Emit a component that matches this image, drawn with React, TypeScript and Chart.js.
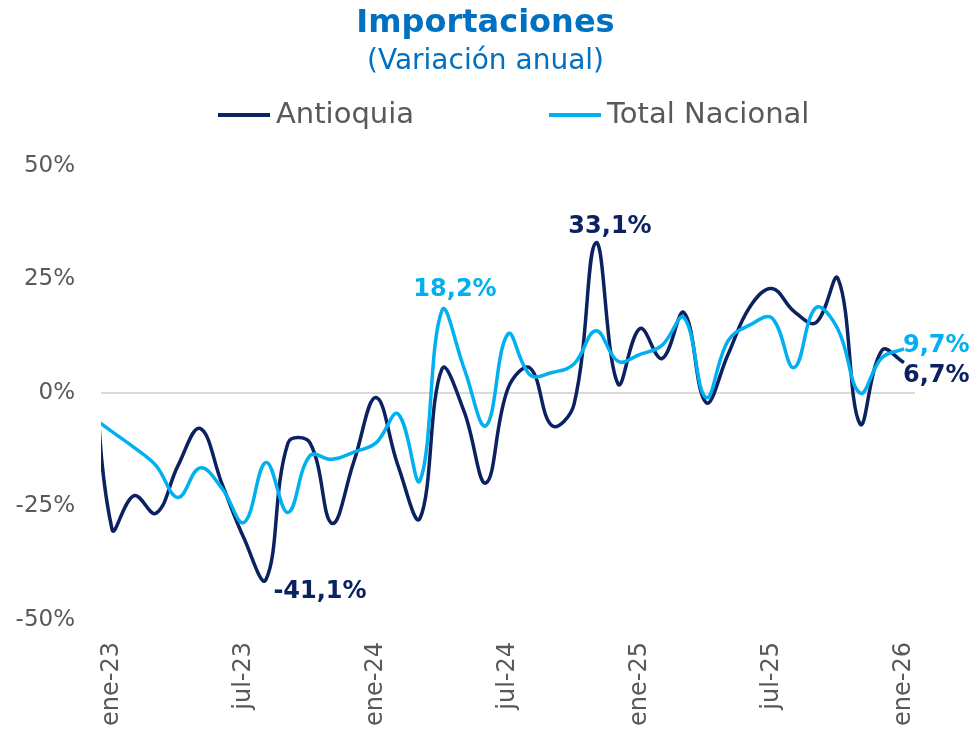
import React, { useEffect, useRef } from 'react';
import { Chart, registerables } from 'chart.js';

Chart.register(...registerables);

// first entry (dic-22) lies just outside the visible window and is clipped, as in the source
const monthLabels = [
  'dic-22',
  'ene-23', 'feb-23', 'mar-23', 'abr-23', 'may-23', 'jun-23', 'jul-23', 'ago-23', 'sep-23', 'oct-23', 'nov-23', 'dic-23',
  'ene-24', 'feb-24', 'mar-24', 'abr-24', 'may-24', 'jun-24', 'jul-24', 'ago-24', 'sep-24', 'oct-24', 'nov-24', 'dic-24',
  'ene-25', 'feb-25', 'mar-25', 'abr-25', 'may-25', 'jun-25', 'jul-25', 'ago-25', 'sep-25', 'oct-25', 'nov-25', 'dic-25',
  'ene-26',
];

const antioquia = [
  22,
  -30, -22.6, -26.5, -16, -7.8, -20, -32, -41.1, -11, -11, -28.7, -15,
  -1, -16, -27.6, 5.3, -4, -19.8, 1, 5.5, -7.2, -2.5, 33.1, 2,
  14.2, 7.6, 17.7, -2.1, 8.5, 19, 23, 18, 15.5, 25.2, -6.8, 9.4,
  6.7,
];

const totalNacional = [
  -5,
  -8.5, -12, -16, -23, -16.5, -21, -28.5, -15.3, -26.3, -13.8, -14.6, -13,
  -11, -4.6, -19.3, 18.2, 5.5, -7.2, 13, 4, 4.5, 6.4, 13.7, 7,
  8.5, 10.5, 16.6, -1, 11.5, 15, 16.5, 5.6, 18.8, 14, 0, 7.8,
  9.7,
];

const seriesNames = ['Antioquia', 'Total Nacional'];
const xTickLabels = ['ene-23', 'jul-23', 'ene-24', 'jul-24', 'ene-25', 'jul-25', 'ene-26'];
const yTickValues = [-50, -25, 0, 25, 50];

const titleText = 'Importaciones';
const subtitleText = '(Variación anual)';

const valueLabels = [
  { dataset: 0, month: 'ago-23', text: '-41,1%' },
  { dataset: 1, month: 'abr-24', text: '18,2%' },
  { dataset: 0, month: 'nov-24', text: '33,1%' },
  { dataset: 1, month: 'ene-26', text: '9,7%' },
  { dataset: 0, month: 'ene-26', text: '6,7%' },
];

const DARK = '#0B2160';
const LIGHT = '#00B0F0';
const GRAY = '#595959';
const BLUE = '#0070C0';
const FONT = '"DejaVu Sans", sans-serif';

// placement of the value labels relative to their point (style, not data)
const labelPlacement: Record<string, { dx: number; dy: number; align: CanvasTextAlign }> = {
  '-41,1%': { dx: 54, dy: 12, align: 'center' },
  '18,2%': { dx: 13, dy: -21, align: 'center' },
  '33,1%': { dx: 14, dy: -16, align: 'center' },
  '9,7%': { dx: -1, dy: -3, align: 'left' },
  '6,7%': { dx: -1, dy: 13, align: 'left' },
};

const legendPlugin = {
  id: 'customLegend',
  afterDraw(chart: any) {
    const ctx = chart.ctx;
    ctx.save();
    ctx.font = `29px ${FONT}`;
    ctx.textBaseline = 'middle';
    ctx.textAlign = 'left';
    let x = 218;
    const y = 115;
    chart.data.datasets.forEach((ds: any) => {
      ctx.strokeStyle = ds.borderColor;
      ctx.lineWidth = 4;
      ctx.beginPath();
      ctx.moveTo(x, y);
      ctx.lineTo(x + 52, y);
      ctx.stroke();
      ctx.fillStyle = GRAY;
      ctx.fillText(ds.label, x + 58, y);
      x += 58 + ctx.measureText(ds.label).width + 135;
    });
    ctx.restore();
  },
};

const valueLabelPlugin = {
  id: 'valueLabels',
  afterDatasetsDraw(chart: any) {
    const ctx = chart.ctx;
    ctx.save();
    ctx.font = `bold 24px ${FONT}`;
    ctx.textBaseline = 'middle';
    valueLabels.forEach((l) => {
      const idx = monthLabels.indexOf(l.month);
      const pt = chart.getDatasetMeta(l.dataset).data[idx];
      if (!pt) return;
      const p = labelPlacement[l.text];
      ctx.textAlign = p.align;
      ctx.fillStyle = l.dataset === 0 ? DARK : LIGHT;
      ctx.fillText(l.text, pt.x + p.dx, pt.y + p.dy);
    });
    ctx.restore();
  },
};

export default function App() {
  const canvasRef = useRef<HTMLCanvasElement | null>(null);

  useEffect(() => {
    document.body.style.margin = '0';
    const canvas = canvasRef.current;
    if (!canvas) return;
    const chart = new Chart(canvas, {
      type: 'line',
      data: {
        datasets: [
          {
            label: seriesNames[0],
            data: antioquia.map((v, i) => ({ x: i, y: v })),
            borderColor: DARK,
            backgroundColor: DARK,
            borderWidth: 3.5,
            pointRadius: 0,
            tension: 0.4,
            clip: 0,
            order: 1,
          },
          {
            label: seriesNames[1],
            data: totalNacional.map((v, i) => ({ x: i, y: v })),
            borderColor: LIGHT,
            backgroundColor: LIGHT,
            borderWidth: 3.5,
            pointRadius: 0,
            tension: 0.4,
            clip: 0,
            order: 0,
          },
        ],
      },
      options: {
        responsive: false,
        animation: false,
        devicePixelRatio: 1,
        layout: { padding: 0 },
        plugins: {
          legend: { display: false },
          tooltip: { enabled: false },
          title: {
            display: true,
            text: titleText,
            color: BLUE,
            font: { family: FONT, size: 32, weight: 'bold', lineHeight: 1.2 },
            padding: { top: 4, bottom: 0 },
          },
          subtitle: {
            display: true,
            text: subtitleText,
            color: BLUE,
            font: { family: FONT, size: 28, weight: 'normal', lineHeight: 1.2 },
            padding: { top: 2.8, bottom: 87.2 },
          },
        },
        scales: {
          x: {
            type: 'linear',
            min: 0.5,
            max: monthLabels.length - 0.5,
            grid: { display: false, drawTicks: false },
            border: { display: false },
            afterBuildTicks: (s: any) => {
              s.ticks = xTickLabels.map((m) => ({ value: monthLabels.indexOf(m) }));
            },
            afterFit: (s: any) => {
              s.height = 114;
            },
            ticks: {
              autoSkip: false,
              minRotation: 90,
              maxRotation: 90,
              padding: 22,
              color: GRAY,
              font: { family: FONT, size: 24 },
              callback: (v: any) => monthLabels[v] ?? '',
            },
          },
          y: {
            type: 'linear',
            min: -50,
            max: 50,
            afterBuildTicks: (s: any) => {
              s.ticks = yTickValues.map((v) => ({ value: v }));
            },
            afterFit: (s: any) => {
              s.width = 101;
            },
            border: { display: false },
            grid: {
              drawTicks: false,
              color: (c: any) => (c.tick && c.tick.value === 0 ? '#D9D9D9' : 'rgba(0,0,0,0)'),
              lineWidth: 2,
            },
            ticks: {
              padding: 26,
              color: GRAY,
              font: { family: FONT, size: 23 },
              callback: (v: any) => `${v}%`,
            },
          },
          yRightSpace: {
            type: 'linear',
            position: 'right',
            display: true,
            grid: { display: false, drawTicks: false },
            border: { display: false },
            ticks: { display: false },
            afterFit: (s: any) => {
              s.width = 56;
            },
          },
        },
      },
      plugins: [legendPlugin, valueLabelPlugin],
    } as any);
    return () => chart.destroy();
  }, []);

  return (
    <div style={{ width: 971, height: 734 }}>
      <canvas ref={canvasRef} width={971} height={734} />
    </div>
  );
}
